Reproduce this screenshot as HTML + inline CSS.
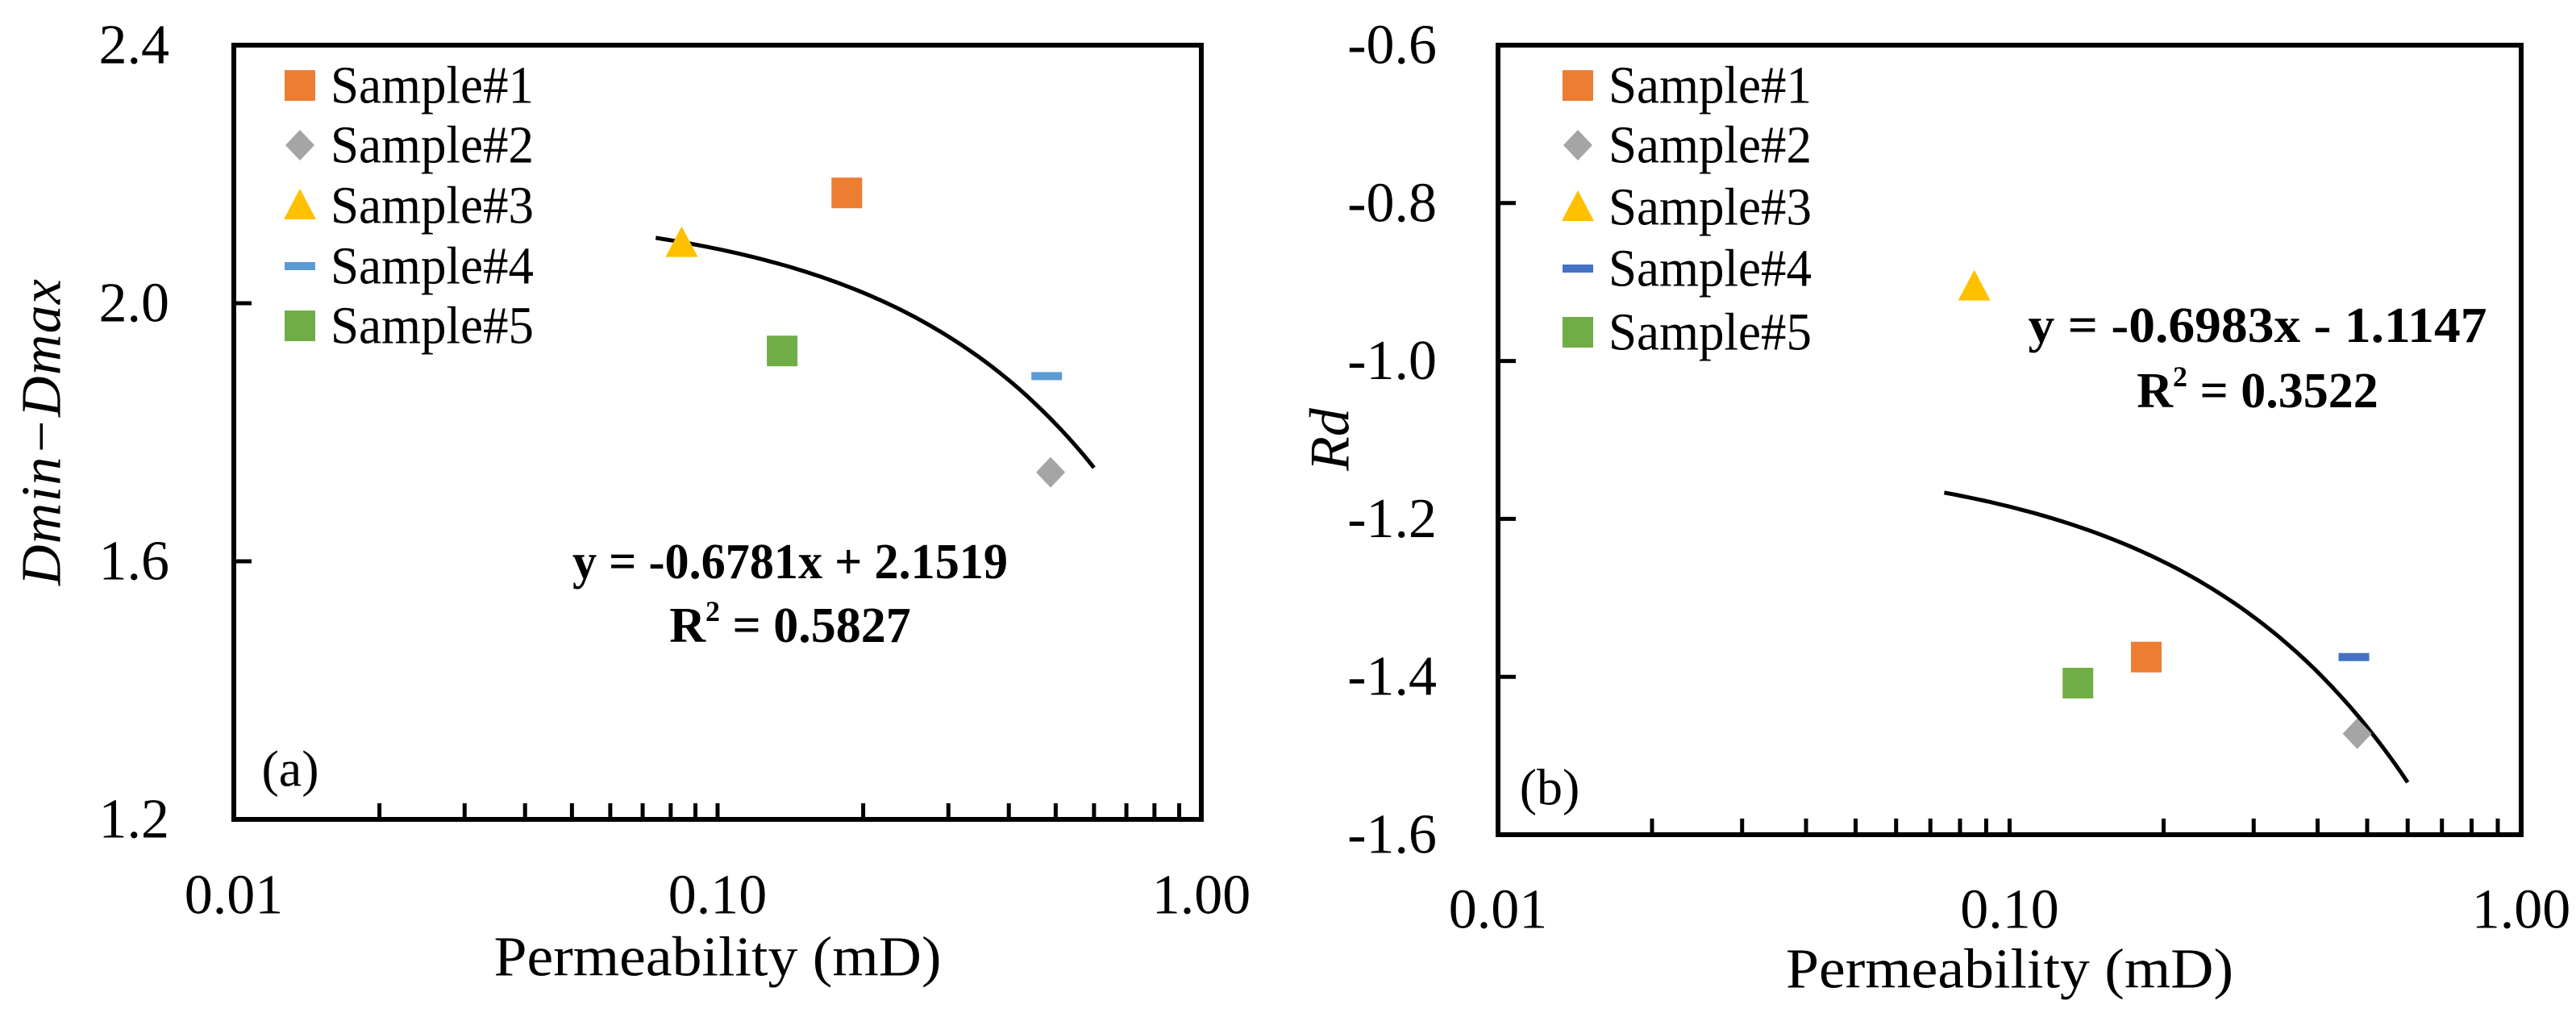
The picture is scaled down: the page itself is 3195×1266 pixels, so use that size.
<!DOCTYPE html>
<html><head><meta charset="utf-8"><style>
html,body{margin:0;padding:0;background:#fff;}
svg{display:block;font-family:"Liberation Serif",serif;}
</style></head><body>
<svg id="c" width="3195" height="1266" viewBox="0 0 3195 1266" xmlns="http://www.w3.org/2000/svg"></svg>
<script>
const sampleNames = ["Sample#1","Sample#2","Sample#3","Sample#4","Sample#5"];
const permA = [0.185, 0.488, 0.0843, 0.479, 0.136];
const dminDmax = [2.171, 1.738, 2.093, 1.887, 1.926];
const permB = [0.185, 0.478, 0.0853, 0.471, 0.136];
const rdValues = [-1.375, -1.472, -0.906, -1.375, -1.408];
const fitA = [-0.6781, 2.1519];
const fitB = [-0.6983, -1.1147];
const fitRange = [0.0745, 0.6];
const yTicksA = [1.2, 1.6, 2.0, 2.4];
const yTicksB = [-1.6, -1.4, -1.2, -1.0, -0.8, -0.6];
const xTickLabels = ["0.01", "0.10", "1.00"];

const NS = "http://www.w3.org/2000/svg";
const svg = document.getElementById("c");
function el(tag, attrs, parent, text){
  const e = document.createElementNS(NS, tag);
  for (const k in attrs) e.setAttribute(k, attrs[k]);
  if (text !== undefined) e.textContent = text;
  (parent || svg).appendChild(e);
  return e;
}
const shapes = ["square","diamond","triangle","dash","square"];

function panel(cfg){
  const g = el("g", {});
  
  
  const L=cfg.L, R=cfg.R, T=cfg.T, B=cfg.B;
  const sx = v => L + (Math.log10(v) + 2) / 2 * (R - L);
  const sy = v => B - (v - cfg.ymin) / (cfg.ymax - cfg.ymin) * (B - T);
  const fr = el("rect", {x:L, y:T, width:R-L, height:B-T, fill:"none", stroke:"#000", "stroke-width":6}, g);
  
  
  for (let d=-2; d<0; d++){
    for (let m=1; m<=9; m++){
      const v = m*Math.pow(10,d);
      if (m===1 && d===-2) continue;
      const x = sx(v);
      const t = el("line", {x1:x, x2:x, y1:B, y2:B-20, stroke:"#000", "stroke-width":5}, g);
      
      
    }
  }
  xTickLabels.forEach(s => {
    const t = el("text", {x:sx(parseFloat(s)), y:cfg.xlabY, "font-size":70, "text-anchor":"middle", "dominant-baseline":"central", fill:"#000"}, g, s);
    
    
  });
  cfg.yTicks.forEach(v => {
    const y = sy(v);
    if (v>cfg.ymin && v<cfg.ymax){
      const t = el("line", {x1:L, x2:L+22, y1:y, y2:y, stroke:"#000", "stroke-width":5}, g);
      
      
    }
    const lb = el("text", {x:cfg.ylabX, y:y, "font-size":70, "text-anchor":"end", "dominant-baseline":"central", fill:"#000"}, g, v.toFixed(1));
    
    
  });
  const xt = el("text", {x:(L+R)/2, y:cfg.xTitleY, "font-size":70, "text-anchor":"middle", "dominant-baseline":"central", textLength:555, lengthAdjust:"spacingAndGlyphs"}, g, "Permeability (mD)");
  
  
  const yt = el("text", {x:0, y:0, "font-size":70, "font-style":"italic", "text-anchor":"middle", "dominant-baseline":"central", transform:`translate(${cfg.yTitleX},${cfg.yTitleY}) rotate(-90)`}, g, cfg.yTitle);
  if (cfg.yTitleLen) yt.setAttribute("textLength", cfg.yTitleLen);
  
  
  let d = "";
  for (let i=0;i<=80;i++){
    const lx = Math.log10(fitRange[0]) + i/80*(Math.log10(fitRange[1])-Math.log10(fitRange[0]));
    const xv = Math.pow(10, lx);
    const yv = cfg.fit[0]*xv + cfg.fit[1];
    d += (i?"L":"M") + sx(xv).toFixed(1) + "," + sy(yv).toFixed(1);
  }
  const tl = el("path", {d:d, fill:"none", stroke:"#000", "stroke-width":5}, g);
  
  
  function marker(kind, color, cx, cy, parent, name){
    let m;
    if (kind==="square") m = el("rect", {x:cx-19, y:cy-19, width:38, height:38, fill:color}, parent);
    else if (kind==="diamond") m = el("polygon", {points:`${cx},${cy-19} ${cx+18},${cy} ${cx},${cy+19} ${cx-18},${cy}`, fill:color}, parent);
    else if (kind==="triangle") m = el("polygon", {points:`${cx},${cy-21} ${cx+20},${cy+17} ${cx-20},${cy+17}`, fill:color}, parent);
    else m = el("rect", {x:cx-19, y:cy-5, width:38, height:10, fill:color}, parent);
    
    
  }
  cfg.xs.forEach((xv,i) => marker(shapes[i], cfg.colors[i], sx(xv), sy(cfg.ys[i]), g, 'point-sample-' + (i+1)));
  const lg = el("g", {}, g);
  
  
  sampleNames.forEach((n,i) => {
    const y = cfg.legY[i];
    marker(shapes[i], cfg.colors[i], cfg.legX, y, lg, 'legend-marker');
    const t = el("text", {x:cfg.legX+38, y:y, "font-size":66, "dominant-baseline":"central", textLength:252, lengthAdjust:"spacingAndGlyphs"}, lg, n);
    
    
  });
  const e1 = el("text", {x:cfg.eqX, y:cfg.eqY[0], "font-size":62, "font-weight":"bold", "text-anchor":"middle", "dominant-baseline":"central", textLength:cfg.eqLen, lengthAdjust:"spacingAndGlyphs"}, g, cfg.eq);
  
  
  const e2 = el("text", {x:cfg.eqX, y:cfg.eqY[1], "font-size":62, "font-weight":"bold", "text-anchor":"middle", "dominant-baseline":"central"}, g);
  
  
  e2.innerHTML = 'R<tspan font-size="36" dy="-18">2</tspan><tspan dy="18"> = ' + cfg.r2 + '</tspan>';
  const pl = el("text", {x:cfg.plX, y:cfg.plY, "font-size":64, "text-anchor":"middle", "dominant-baseline":"central"}, g, cfg.pl);
  
  
}

panel({name:"panel-a", L:290, R:1490, T:56, B:1016, ymin:1.2, ymax:2.4, yTicks:yTicksA,
  xs:permA, ys:dminDmax, fit:fitA, colors:["#ED7D31","#A5A5A5","#FFC000","#5B9BD5","#70AD47"],
  xlabY:1110, ylabX:210, xTitleY:1187, yTitle:"Dmin\u2212Dmax", yTitleX:52, yTitleY:536, yTitleLen:380,
  legX:372, legY:[106,180,255,330,404], eq:"y = -0.6781x + 2.1519", eqX:980, eqY:[697,776], eqLen:540, r2:"0.5827",
  pl:"(a)", plX:360, plY:953});
panel({name:"panel-b", L:1858, R:3127, T:56, B:1035, ymin:-1.6, ymax:-0.6, yTicks:yTicksB,
  xs:permB, ys:rdValues, fit:fitB, colors:["#ED7D31","#A5A5A5","#FFC000","#4472C4","#70AD47"],
  xlabY:1128, ylabX:1782, xTitleY:1202, yTitle:"Rd", yTitleX:1650, yTitleY:545,
  legX:1957, legY:[106,180,257,333,412], eq:"y = -0.6983x - 1.1147", eqX:2800, eqY:[404,485], eqLen:569, r2:"0.3522",
  pl:"(b)", plX:1922, plY:976});
</script>
</body></html>
